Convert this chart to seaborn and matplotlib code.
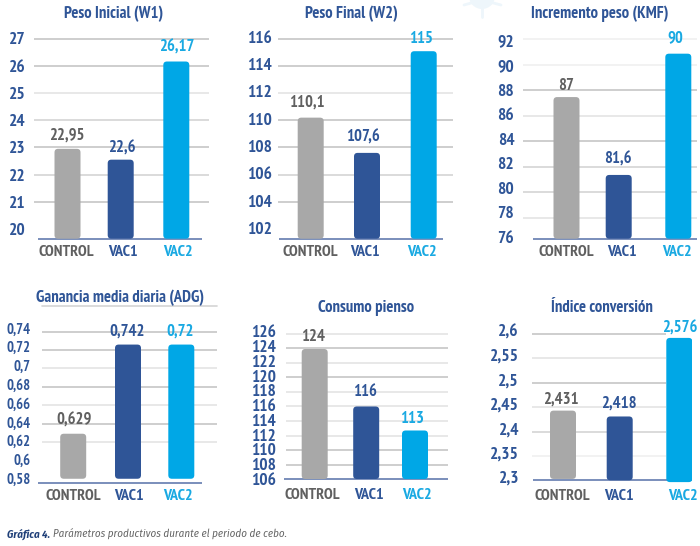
import matplotlib
matplotlib.use("Agg")
import matplotlib.pyplot as plt
from matplotlib.patches import FancyBboxPatch, Circle
from matplotlib.lines import Line2D
import pandas as pd
import seaborn as sns

sns.set_theme(style="white")
FONT = ["PT Sans Narrow", "Roboto Condensed", "Roboto", "DejaVu Sans"]
CAPTION_FONT = ["Fira Sans Condensed", "Roboto Condensed", "Roboto", "DejaVu Sans"]
plt.rcParams["font.family"] = FONT
plt.rcParams["font.weight"] = "bold"

GRAY, BLUE, CYAN = "#a8a8a8", "#2f5597", "#00a7e6"
TEXT_GRAY, TICK_BLUE, LINE_BLUE = "#606060", "#2f5597", "#6f86b5"

categories = ["CONTROL", "VAC1", "VAC2"]

titles = ["Peso Inicial (W1)", "Peso Final (W2)", "Incremento peso (KMF)",
          "Ganancia media diaria (ADG)", "Consumo pienso", "Índice conversión"]

w1_bars = [22.95, 22.55, 26.17]
w2_bars = [110.2, 107.6, 115.1]
kmf_bars = [87.45, 81.35, 90.85]
adg_bars = [0.629, 0.726, 0.726]
feed_bars = [123.9, 116.0, 112.7]
ic_bars = [2.443, 2.431, 2.592]

w1_labels = ["22,95", "22,6", "26,17"]
w2_labels = ["110,1", "107,6", "115"]
kmf_labels = ["87", "81,6", "90"]
adg_labels = ["0,629", "0,742", "0,72"]
feed_labels = ["124", "116", "113"]
ic_labels = ["2,431", "2,418", "2,576"]

w1_ticks = [20, 21, 22, 23, 24, 25, 26, 27]
w2_ticks = [102, 104, 106, 108, 110, 112, 114, 116]
kmf_ticks = [76, 78, 80, 82, 84, 86, 88, 90, 92]
adg_ticks = [0.58, 0.60, 0.62, 0.64, 0.66, 0.68, 0.70, 0.72, 0.74]
feed_ticks = [106, 108, 110, 112, 114, 116, 118, 120, 122, 124, 126]
ic_ticks = [2.3, 2.35, 2.4, 2.45, 2.5, 2.55, 2.6]

w1_ticklabels = ["20", "21", "22", "23", "24", "25", "26", "27"]
w2_ticklabels = ["102", "104", "106", "108", "110", "112", "114", "116"]
kmf_ticklabels = ["76", "78", "80", "82", "84", "86", "88", "90", "92"]
adg_ticklabels = ["0,58", "0,6", "0,62", "0,64", "0,66", "0,68", "0,7", "0,72", "0,74"]
feed_ticklabels = ["106", "108", "110", "112", "114", "116", "118", "120", "122", "124", "126"]
ic_ticklabels = ["2,3", "2,35", "2,4", "2,45", "2,5", "2,55", "2,6"]

W, H = 700, 546
fig = plt.figure(figsize=(W / 100, H / 100), dpi=100, facecolor="white")

# ---- layout (pixels of the reference) ----
D, M, L, V = "#c6c6c6", "#d4d4d4", "#e4e4e4", "#f0f0f0"
layout = [
    dict(bars=w1_bars, labels=w1_labels, ticks=w1_ticks, tl=w1_ticklabels,
         grid=(34, 209), base=(38, 202), base_y=238.7, cal=(27, 39, 21, 201.7),
         tick=(25.5, 229.3, 38.3), centers=(67.5, 120.7, 176.3), xt=(66.7, 122.7, 177.7),
         xt_y=252.5, gaps=(13, 11.6, 13.7), ldx=(-0.8, 0.6, 0.4), title=(114, 14),
         shades=[None, D, M, D, M, L, D, D], floors=(None, None, None)),
    dict(bars=w2_bars, labels=w2_labels, ticks=w2_ticks, tl=w2_ticklabels,
         grid=(278.3, 452.7), base=(279, 442.7), base_y=238.7, cal=(116, 39, 104, 201.7),
         tick=(271.7, 228, 36.7), centers=(310.7, 367, 423.7), xt=(310.5, 365, 421.5),
         xt_y=252.5, gaps=(15.3, 15, 12.3), ldx=(-4, -3.7, -2.4), title=(351, 14),
         shades=[None, D, M, D, D, L, D, D], floors=(None, None, None)),
    dict(bars=kmf_bars, labels=kmf_labels, ticks=kmf_ticks, tl=kmf_ticklabels,
         grid=(522.7, 697), base=(532.7, 697), base_y=238.7, cal=(92, 39, 78, 217.7),
         tick=(514.3, 236.7, 40.7), centers=(566.5, 618.7, 678.3), xt=(566, 621.7, 676.7),
         xt_y=252.5, gaps=(11, 15.7, 15.7), ldx=(-0.5, -0.7, -2.6), title=(599.3, 14),
         shades=[None, L, M, M, D, L, D, V, V], floors=(None, None, None)),
    dict(bars=adg_bars, labels=adg_labels, ticks=adg_ticks, tl=adg_ticklabels,
         grid=(42.3, 216.7), base=(38, 201.7), base_y=482.7, cal=(0.74, 331.7, 0.62, 442),
         tick=(30.5, 478.3, 328), centers=(73.2, 128, 181.3), xt=(73, 129, 177.7),
         xt_y=496.3, gaps=(13.3, 12.6, 12.6), ldx=(1.1, -0.7, -1.6), title=(120, 297.7),
         shades=[None, None, L, D, L, D, L, D, D], floors=(0.58, 0.58, 0.58)),
    dict(bars=feed_bars, labels=feed_labels, ticks=feed_ticks, tl=feed_ticklabels,
         grid=(285.7, 447.7), base=(284.3, 447.7), base_y=479, cal=(126, 333.7, 108, 464.7),
         tick=(275.7, 479, 331.3), centers=(314.7, 366.2, 415), xt=(312.7, 368.7, 417.3),
         xt_y=495.3, gaps=(12.3, 14.3, 11), ldx=(-1.4, -1.5, -2.7), title=(365.8, 308),
         shades=[None, D, D, L, L, L, L, D, L, D, L], floors=(None, None, None)),
    dict(bars=ic_bars, labels=ic_labels, ticks=ic_ticks, tl=ic_ticklabels,
         grid=(531.7, 666), base=(532.7, 692), base_y=480.3, cal=(2.6, 334, 2.35, 456),
         tick=(519, 477, 330.3), centers=(563, 619.7, 679.3), xt=(562.7, 619, 682.7),
         xt_y=495.7, gaps=(10.6, 12.6, 9), ldx=(-2.3, -0.7, 0), title=(602, 308),
         shades=[None, V, M, L, D, L, D], floors=(2.303, None, 2.2965)),
]
bar_colors = [GRAY, BLUE, CYAN]
label_colors = [TEXT_GRAY, TICK_BLUE, "#19a9e2"]
BAR_W = 26.0


def px_to_fig(x, y):
    return x / W, 1 - y / H


# faint background decoration and the rule under the ADG title
deco = fig.add_axes([0, 0, 1, 1], zorder=0)
deco.set_xlim(0, W)
deco.set_ylim(H, 0)
deco.axis("off")
ICON = "#eef6fb"
deco.add_patch(Circle((482, -4), 13, color=ICON, lw=0))
for xe, ye in [(482, 17), (464, 5), (501, 5)]:
    deco.add_line(Line2D([482, xe], [0, ye], color=ICON, lw=2))
deco.add_line(Line2D([42, 216.7], [305.7, 305.7], color=M, lw=1.2))

for spec, title in zip(layout, titles):
    gx0, gx1 = spec["grid"]
    bx0, bx1 = spec["base"]
    c = spec["centers"]
    x0 = min(gx0, bx0)
    x1 = max(gx1, bx1, c[2] + BAR_W / 2)
    ytop = spec["tick"][2] - 12
    ybot = spec["base_y"] + 6
    ax = fig.add_axes([x0 / W, 1 - ybot / H, (x1 - x0) / W, (ybot - ytop) / H], zorder=1)
    ax.patch.set_alpha(0)

    # y scale from the gridline calibration
    v1, y1, v2, y2 = spec["cal"]
    upp = (v1 - v2) / (y2 - y1)
    baseline = v1 - (spec["base_y"] - y1) * upp

    frame = pd.DataFrame({"grupo": categories, "valor": spec["bars"]})
    sns.barplot(data=frame, x="grupo", y="valor", hue="grupo", order=categories,
                hue_order=categories, palette=bar_colors, legend=False, ax=ax,
                width=0.5, saturation=1, zorder=3)
    ax.set_ylim(v1 - (ybot - y1) * upp, v1 + (y1 - ytop) * upp)
    # horizontal scale: first and last bar centres set the axis limits
    xupp = 2.0 / (c[2] - c[0])
    xlim = ((x0 - c[0]) * xupp, (x1 - c[0]) * xupp)

    # rounded bars built from the bars seaborn drew
    for i, patch in enumerate(list(ax.patches)):
        nudge = (c[i] - (c[0] + i * (c[2] - c[0]) / 2)) * xupp
        w = BAR_W * xupp
        xm = patch.get_x() + patch.get_width() / 2 + nudge
        top = patch.get_height()
        floor = spec["floors"][i] if spec["floors"][i] is not None else baseline
        color = patch.get_facecolor()
        patch.set_visible(False)
        rx = 3.6 * xupp
        ry = 3.6 * upp
        box = FancyBboxPatch((xm - w / 2, floor), w, top - floor,
                             boxstyle=f"round,pad=0,rounding_size={rx}", mutation_aspect=ry / rx,
                             facecolor=color, edgecolor="none", zorder=5)
        ax.add_patch(box)
        ax.annotate(spec["labels"][i], (xm, top), xytext=(spec["ldx"][i] * 0.72, spec["gaps"][i] * 0.72),
                    textcoords="offset points", ha="center", va="center", fontsize=12,
                    color=label_colors[i], zorder=6)

    # gridlines
    ax.set_yticks(spec["ticks"])
    ax.tick_params(axis="y", length=0, labelleft=False)
    ax.grid(False)
    for val, shade in zip(spec["ticks"], spec["shades"]):
        if shade is not None:
            ax.plot([(gx0 - c[0]) * xupp, (gx1 - c[0]) * xupp], [val, val], color=shade, lw=1.2, zorder=1,
                    solid_capstyle="butt")
    # baseline
    ax.plot([(bx0 - c[0]) * xupp, (bx1 - c[0]) * xupp], [baseline, baseline], color=LINE_BLUE,
            lw=1.3, zorder=2, solid_capstyle="butt")
    ax.set_xlim(*xlim)

    for s in ax.spines.values():
        s.set_visible(False)
    ax.set_xlabel("")
    ax.set_ylabel("")
    ax.tick_params(axis="x", length=0, labelbottom=False)

    # tick labels: their own spacing, independent from the gridlines
    tw = ax.twinx()
    tx, ylow, yhigh = spec["tick"]
    tks = spec["ticks"]
    upp_t = (tks[-1] - tks[0]) / (ylow - yhigh)
    tw.set_ylim(tks[0] - (ybot - ylow) * upp_t, tks[0] + (ylow - ytop) * upp_t)
    tw.yaxis.tick_left()
    tw.set_yticks(tks, spec["tl"])
    tw.tick_params(axis="y", length=0, pad=(x0 - tx) * 0.72, colors=TICK_BLUE,
                   labelsize=10.5 if spec is layout[3] else 12.5)
    for s in tw.spines.values():
        s.set_visible(False)
    tw.grid(False)
    tw.patch.set_alpha(0)

    # category labels
    for name, xc, color in zip(categories, spec["xt"], label_colors):
        fx, fy = px_to_fig(xc, spec["xt_y"])
        fig.text(fx, fy, name, ha="center", va="center", fontsize=11.5, color=color)

    fx, fy = px_to_fig(*spec["title"])
    fig.text(fx, fy, title, ha="center", va="center", fontsize=12, color=TICK_BLUE)

# caption
fx, fy = px_to_fig(6.7, 534)
t1 = fig.text(fx, fy, "Gráfica 4.", ha="left", va="center", fontsize=7.9, style="italic",
              weight="bold", color="#1f3f78", family=CAPTION_FONT)
fig.canvas.draw()
bb = t1.get_window_extent()
fig.text(bb.x1 / W + 0.004, fy, "Parámetros productivos durante el periodo de cebo.", ha="left", va="center",
         fontsize=7.9, style="italic", weight="normal", color="#666666", family=CAPTION_FONT)

fig.savefig("out.png", dpi=100, facecolor="white")
